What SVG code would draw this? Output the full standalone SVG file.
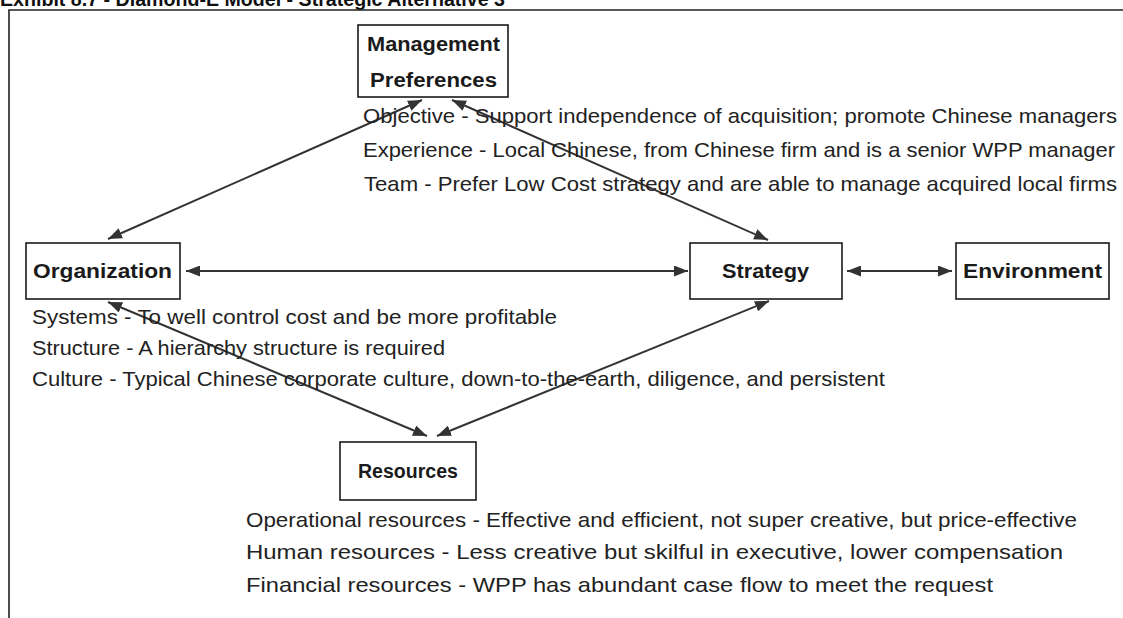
<svg xmlns="http://www.w3.org/2000/svg" width="1123" height="618" viewBox="0 0 1123 618">
<defs>
<style>
.bg{fill:#fff}
.box{fill:#fff;stroke:#1a1a1a;stroke-width:1.6}
.lbl{font-family:"Liberation Sans",Arial,sans-serif;font-weight:bold;font-size:20px;fill:#1a1a1a;text-anchor:start}
.txt{font-family:"Liberation Sans",Arial,sans-serif;font-size:21px;fill:#222}
.title{font-family:"Liberation Sans",Arial,sans-serif;font-weight:bold;font-size:20px;fill:#111}
.frame{fill:none;stroke:#222;stroke-width:1.6}
.conn{fill:none;stroke:#333;stroke-width:2;marker-start:url(#ah);marker-end:url(#ah)}
</style>
<marker id="ah" viewBox="0 0 14 11" refX="14" refY="5.5" markerWidth="14" markerHeight="11" markerUnits="userSpaceOnUse" orient="auto-start-reverse">
<path d="M0,0 L14,5.5 L0,11 Z" fill="#333"/>
</marker>
</defs>
<rect class="bg" x="0" y="0" width="1123" height="618"/>
<text class="title" x="0" y="6" textLength="505" lengthAdjust="spacingAndGlyphs">Exhibit 8.7 - Diamond-E Model - Strategic Alternative 3</text>
<path class="frame" d="M1123,10 H9 V618"/>

<g id="connectors">
<line class="conn" x1="186" y1="271" x2="688" y2="271"/>
<line class="conn" x1="847" y1="271" x2="952" y2="271"/>
<line class="conn" x1="108" y1="239" x2="422" y2="100"/>
<line class="conn" x1="452" y1="100" x2="768" y2="240"/>
<line class="conn" x1="108" y1="302" x2="427" y2="436"/>
<line class="conn" x1="769" y1="301" x2="437" y2="436"/>
</g>

<g id="management">
<rect class="box" x="358" y="25" width="150" height="72"/>
<text class="lbl" x="367" y="51" textLength="133" lengthAdjust="spacingAndGlyphs">Management</text>
<text class="lbl" x="370" y="87" textLength="127" lengthAdjust="spacingAndGlyphs">Preferences</text>
<text class="txt" x="363" y="123" textLength="754" lengthAdjust="spacingAndGlyphs">Objective - Support independence of acquisition; promote Chinese managers</text>
<text class="txt" x="363" y="157" textLength="752" lengthAdjust="spacingAndGlyphs">Experience - Local Chinese, from Chinese firm and is a senior WPP manager</text>
<text class="txt" x="364" y="191" textLength="753" lengthAdjust="spacingAndGlyphs">Team  - Prefer Low Cost strategy and are able to manage acquired local firms</text>
</g>

<g id="organization">
<rect class="box" x="26" y="243" width="154" height="56"/>
<text class="lbl" x="33" y="278" textLength="139" lengthAdjust="spacingAndGlyphs">Organization</text>
<text class="txt" x="32" y="324" textLength="525" lengthAdjust="spacingAndGlyphs">Systems - To well control cost and be more profitable</text>
<text class="txt" x="32" y="355" textLength="413" lengthAdjust="spacingAndGlyphs">Structure - A hierarchy structure is required</text>
<text class="txt" x="32" y="386" textLength="853" lengthAdjust="spacingAndGlyphs">Culture - Typical Chinese corporate culture, down-to-the-earth, diligence, and persistent</text>
</g>

<g id="strategy">
<rect class="box" x="690" y="243" width="152" height="56"/>
<text class="lbl" x="722" y="278" textLength="87" lengthAdjust="spacingAndGlyphs">Strategy</text>
</g>

<g id="environment">
<rect class="box" x="956" y="243" width="153" height="56"/>
<text class="lbl" x="963" y="278" textLength="139" lengthAdjust="spacingAndGlyphs">Environment</text>
</g>

<g id="resources">
<rect class="box" x="340" y="442" width="136" height="58"/>
<text class="lbl" x="358" y="478" textLength="100" lengthAdjust="spacingAndGlyphs">Resources</text>
<text class="txt" x="246" y="527" textLength="831" lengthAdjust="spacingAndGlyphs">Operational resources - Effective and efficient, not super creative, but price-effective</text>
<text class="txt" x="246" y="559" textLength="817" lengthAdjust="spacingAndGlyphs">Human resources  - Less creative but skilful in executive, lower compensation</text>
<text class="txt" x="246" y="592" textLength="747" lengthAdjust="spacingAndGlyphs">Financial resources - WPP has abundant case flow to meet the request</text>
</g>
</svg>
